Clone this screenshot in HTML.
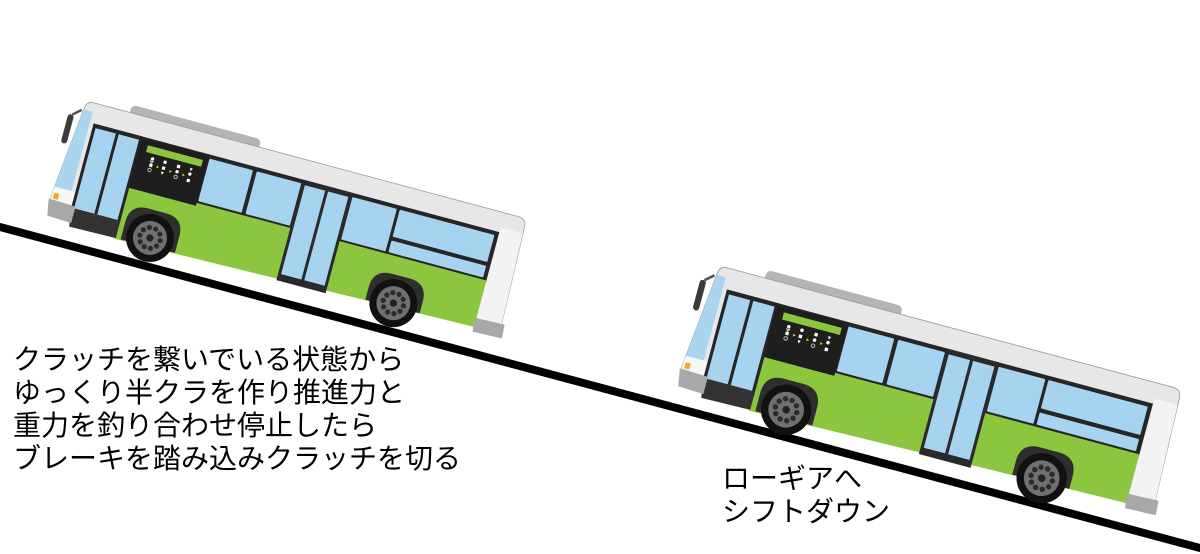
<!DOCTYPE html>
<html><head><meta charset="utf-8">
<style>
html,body{margin:0;padding:0;background:#fff;}
body{width:1200px;height:554px;position:relative;overflow:hidden;}
svg{position:absolute;left:0;top:0;}
.t{position:absolute;font-family:"Liberation Sans","Noto Sans CJK JP",sans-serif;font-size:28px;line-height:33px;color:#000;white-space:nowrap;}
</style></head><body>
<svg width="1200" height="554" viewBox="0 0 1200 554" xmlns="http://www.w3.org/2000/svg">
<defs>
 <g id="wheel">
  <circle r="24" fill="#111"/>
  <circle r="17" fill="#707070"/>
  <circle cx="10.5" cy="0" r="2.6" fill="#2b2b2b"/>
  <circle cx="8.49" cy="6.17" r="2.6" fill="#2b2b2b"/>
  <circle cx="3.24" cy="9.99" r="2.6" fill="#2b2b2b"/>
  <circle cx="-3.24" cy="9.99" r="2.6" fill="#2b2b2b"/>
  <circle cx="-8.49" cy="6.17" r="2.6" fill="#2b2b2b"/>
  <circle cx="-10.5" cy="0" r="2.6" fill="#2b2b2b"/>
  <circle cx="-8.49" cy="-6.17" r="2.6" fill="#2b2b2b"/>
  <circle cx="-3.24" cy="-9.99" r="2.6" fill="#2b2b2b"/>
  <circle cx="3.24" cy="-9.99" r="2.6" fill="#2b2b2b"/>
  <circle cx="8.49" cy="-6.17" r="2.6" fill="#2b2b2b"/>
  <circle r="3.6" fill="#222"/>
 </g>
 <g id="bus">
  <!-- roof AC -->
  <rect x="44" y="-9" width="134" height="13" rx="5" fill="#b4b4b4"/>
  <!-- mirror -->
  <path d="M -3 9 L -11 16" stroke="#555" stroke-width="2.5" fill="none"/>
  <rect x="-15" y="16" width="6" height="30" rx="3" fill="#3b3b3b"/>
  <!-- body -->
  <path d="M 6 -1 L 446 -1 Q 455 -1 455 8 L 458 109 L 14 112 L -11 106 L -1 6 Q 0 -1 6 -1 Z" fill="#e7e7e7" stroke="#9a9a9a" stroke-width="0.8"/>
  <path d="M 432 14 L 455 14 L 458 109 L 432 110 Z" fill="#f3f3f3"/>
  <!-- front -->
  <path d="M -1.2 8 L 8 8 L 8 90 L -9.4 90 Z" fill="#a9d5ef"/>
  <path d="M -9.4 90 L 12 90 L 12 104 L -10.8 104 Z" fill="#f7f7f7"/>
  <rect x="-8" y="96" width="5" height="6" fill="#f5a623"/>
  <!-- window band -->
  <rect x="12" y="19" width="420" height="52" fill="#262626"/>
  <!-- green lower body -->
  <path d="M 62 69 L 432 69 L 432 117 L 62 125 Z" fill="#8cc63f"/>
  <!-- wheel arches -->
  <path d="M 68 124 L 68 106 Q 68 87 87 87 L 105 87 Q 124 87 124 106 L 124 123 Z" fill="#2e2e2e"/>
  <path d="M 320 119 L 320 106 Q 320 87 339 87 L 357 87 Q 376 87 376 106 L 376 118 Z" fill="#2e2e2e"/>
  <!-- front door -->
  <rect x="12" y="19" width="51" height="92" fill="#262626"/>
  <rect x="15" y="23" width="21" height="84" fill="#a6d3ef"/>
  <rect x="39" y="23" width="21" height="84" fill="#a6d3ef"/>
  <path d="M 12 106 L 63 106 L 63 124 L 15 125 Z" fill="#333"/>
  <!-- front bumper -->
  <path d="M -12 103 L 16 104 L 16 121 L -9 120 Z" fill="#a8a8a8"/>
  <!-- sign panel -->
  <rect x="62" y="20" width="70" height="52" fill="#1e1e1e"/>
  <rect x="70" y="26" width="57" height="7" fill="#8cc63f"/>
  <g fill="#fff">
   <circle cx="78" cy="38" r="1.7"/><rect x="76.5" y="43" width="3.2" height="3.2"/>
   <circle cx="91" cy="38" r="1.7"/><rect x="89.5" y="42.5" width="3.2" height="3.2"/><path d="M89.5 48 L92.5 48 L91 51 Z"/>
   <rect x="103.5" y="37" width="3.2" height="3.2"/><circle cx="105" cy="44" r="1.7"/>
   <path d="M116.5 37 L119.5 37 L118 40 Z"/><circle cx="118" cy="43" r="1.7"/><rect x="116.5" y="48" width="3.2" height="3.2"/>
  </g>
  <g fill="none" stroke="#ddd" stroke-width="0.8">
   <circle cx="78" cy="49.5" r="1.7"/><circle cx="105" cy="49.5" r="1.7"/><path d="M76.5 40.5 L79.5 40.5 L78 42.5 Z"/>
  </g>
  <g fill="#f2c200">
   <path d="M84 43 L86.5 44.5 L84 46 Z"/><path d="M97.5 44 L100 45.5 L97.5 47 Z"/><path d="M111 44 L113.5 45.5 L111 47 Z"/>
  </g>
  <!-- side windows -->
  <rect x="133" y="23" width="45" height="44" rx="1" fill="#a6d3ef"/>
  <rect x="182" y="23" width="46" height="44" rx="1" fill="#a6d3ef"/>
  <rect x="281" y="23" width="46" height="44" rx="1" fill="#a6d3ef"/>
  <rect x="330" y="23" width="98" height="28" rx="1" fill="#a6d3ef"/>
  <rect x="330" y="55" width="98" height="12" rx="1" fill="#a6d3ef"/>
  <!-- middle door -->
  <rect x="229" y="19" width="51" height="104" fill="#2a2a2a"/>
  <rect x="232" y="24" width="21" height="92" fill="#a6d3ef"/>
  <rect x="256" y="24" width="21" height="92" fill="#a6d3ef"/>
  <!-- rear bumper -->
  <path d="M 430 108 L 461 107 L 462 121 L 432 122 Z" fill="#a8a8a8"/>
  <!-- wheels -->
  <use href="#wheel" xlink:href="#wheel" transform="translate(96,115)" xmlns:xlink="http://www.w3.org/1999/xlink"/>
  <use href="#wheel" xlink:href="#wheel" transform="translate(348,115)" xmlns:xlink="http://www.w3.org/1999/xlink"/>
 </g>
</defs>
<line x1="-5" y1="225.7" x2="1205" y2="549.3" stroke="#000" stroke-width="8"/>
<use href="#bus" transform="translate(87,102) rotate(15)"/>
<use href="#bus" transform="translate(720,267) rotate(15) scale(1.05)"/>
</svg>
<div class="t" style="left:13px;top:343px">クラッチを繋いでいる状態から<br>ゆっくり半クラを作り推進力と<br>重力を釣り合わせ停止したら<br>ブレーキを踏み込みクラッチを切る</div>
<div class="t" style="left:722px;top:462px">ローギアへ<br>シフトダウン</div>
</body></html>
